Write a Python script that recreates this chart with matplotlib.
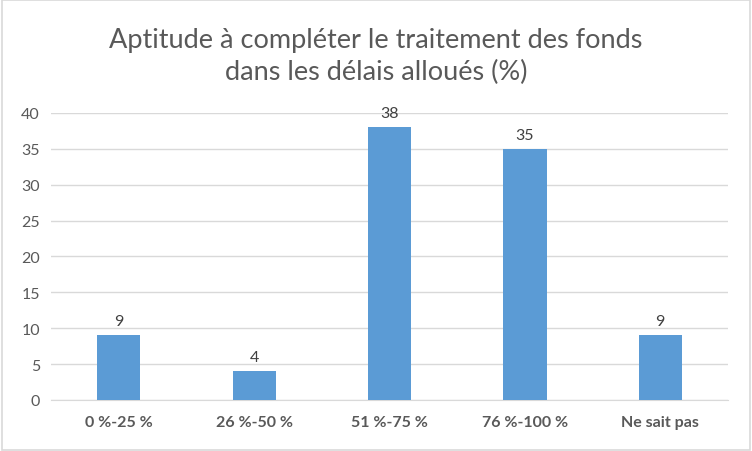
import matplotlib
matplotlib.use("Agg")
import matplotlib.pyplot as plt
from matplotlib.patches import Rectangle

# Data
categories = ["0 %-25 %", "26 %-50 %", "51 %-75 %", "76 %-100 %", "Ne sait pas"]
values = [9, 4, 38, 35, 9]
yticks = [0, 5, 10, 15, 20, 25, 30, 35, 40]

plt.rcParams['font.family'] = ['Lato', 'DejaVu Sans']

fig = plt.figure(figsize=(7.52, 4.52), dpi=100)
ax = fig.add_axes([0.068, 0.113, 0.9, 0.635])

x = range(len(categories))
ax.bar(x, values, width=0.32, color="#5B9BD5", zorder=3)
for xi, v in zip(x, values):
    ax.annotate(str(v), (xi, v), xytext=(0, 5), textcoords="offset points",
                ha="center", va="bottom", fontsize=11.5, color="#404040")

ax.set_xlim(-0.5, len(categories) - 0.5)
ax.set_ylim(0, 40)
ax.set_yticks(yticks)
ax.set_xticks(list(x))
ax.set_xticklabels(categories, fontweight="bold", fontsize=11.5, color="#595959")
ax.tick_params(axis="y", labelsize=11.5, labelcolor="#595959", length=0, pad=8)
ax.tick_params(axis="x", length=0, pad=11)
ax.grid(axis="y", color="#D9D9D9", linewidth=1, zorder=0)
for s in ["top", "right", "left"]:
    ax.spines[s].set_visible(False)
ax.spines["bottom"].set_color("#D9D9D9")

fig.text(0.5, 0.875, "Aptitude à compléter le traitement des fonds\ndans les délais alloués (%)",
         ha="center", va="center", fontsize=19.5, color="#595959", linespacing=1.32)

# outer border
fig.patches.append(Rectangle((0.002, 0.002), 0.996, 0.996, transform=fig.transFigure,
                             fill=False, edgecolor="#D9D9D9", linewidth=1.2))

fig.savefig("out.png", dpi=100)
